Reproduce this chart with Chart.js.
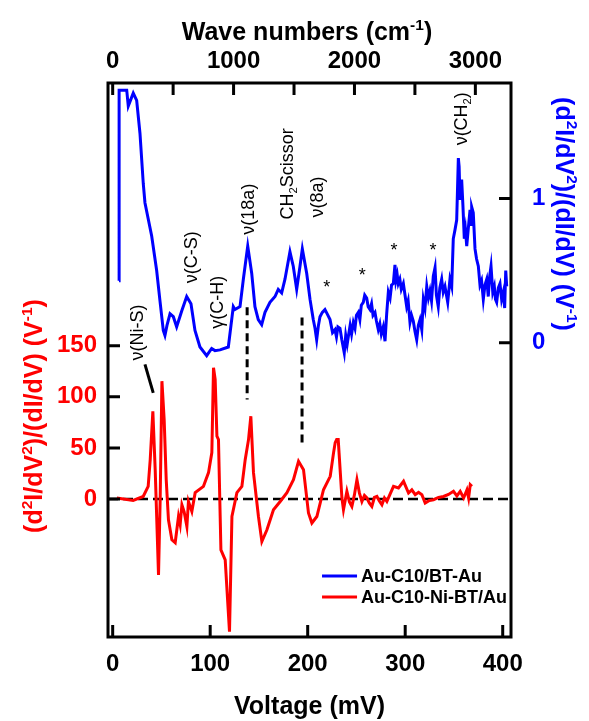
<!DOCTYPE html>
<html>
<head>
<meta charset="utf-8">
<script src="https://cdn.jsdelivr.net/npm/chart.js@4/dist/chart.umd.min.js"></script>
<style>
  html, body { margin: 0; padding: 0; background: #fff; }
</style>
</head>
<body>
<canvas id="iets" width="589" height="721"></canvas>
<script>
// Au-C10/BT-Au  (right axis, V^-1)
const blueV = [6.5, 6.6, 14.4, 16.0, 21.1, 24.6, 28.0, 31.4, 33.1, 40.0, 45.1, 48.5, 51.9, 53.6, 55.7, 58.8,
  62.2, 65.6, 70.8, 75.9, 80.3, 84.4, 89.5, 96.4, 101.5, 104.9, 110.1, 118.6, 123.7, 125.4, 130.6, 134.0,
  138.5, 142.6, 145.9, 149.3, 152.8, 156.2, 161.3, 166.5, 169.8, 173.3, 176.7, 181.8, 185.2, 188.7, 192.1,
  194.5, 199.0, 202.4, 205.7, 207.5, 209.2, 211.0, 212.6, 215.0, 217.7, 220.0, 222.9, 225.5,
  228.0, 229.5, 231.0, 233.1, 235.0, 237.5, 239.0, 240.5, 241.6, 243.5, 245.0, 246.8, 248.5, 250.0, 251.9,
  253.5, 255.0, 257.0, 258.5, 260.5, 262.0, 263.9, 265.5, 267.0, 269.0, 270.5, 272.4, 274.0, 275.5, 277.5,
  279.3, 281.0, 282.7, 284.5, 286.0, 287.8, 289.5, 290.5, 291.8, 292.9, 294.5, 296.0, 298.1, 299.8, 301.5,
  303.0, 304.9, 306.5, 308.3, 310.0, 311.8, 313.5, 315.2, 317.0, 318.6, 320.3, 322.1, 323.8, 325.4, 327.0,
  328.8, 330.6, 332.0, 333.9, 335.5, 337.4, 339.0, 340.8, 342.3, 343.6, 345.9, 347.7, 349.3, 351.0, 352.8,
  354.5, 355.3, 356.2, 357.9, 359.2, 360.6, 361.8, 363.1, 364.8, 366.5, 367.5, 368.2, 369.8, 371.6, 373.2,
  375.0, 376.7, 378.3, 380.1, 381.8, 383.6, 385.2, 386.6, 388.0, 389.8, 391.4, 392.6, 393.8, 395.5, 397.2,
  398.9, 400.6, 402.0, 403.1, 404.1];
const blueY = [0.43, 1.75, 1.75, 1.64, 1.73, 1.68, 1.45, 1.10, 0.97, 0.74, 0.50, 0.29, 0.085, 0.05, 0.12, 0.20,
  0.18, 0.11, 0.22, 0.32, 0.27, 0.085, -0.03, -0.09, -0.04, -0.055, -0.05, -0.03, 0.25, 0.23, 0.25, 0.44,
  0.67, 0.48, 0.25, 0.16, 0.125, 0.21, 0.28, 0.32, 0.37, 0.345, 0.44, 0.63, 0.53, 0.37, 0.53,
  0.65, 0.48, 0.30, 0.16, 0.10, 0.02, 0.12, 0.18, 0.21, 0.23, 0.20, 0.16, 0.07,
  0.09, 0.04, 0.11, 0.10, 0.02, -0.07, 0.05, -0.01, 0.04, 0.12, 0.06, 0.14, 0.10, 0.19, 0.21,
  0.16, 0.26, 0.28, 0.33, 0.31, 0.25, 0.23, 0.27, 0.19, 0.21, 0.15, 0.09, 0.13, 0.06, 0.11,
  0.01, 0.20, 0.35, 0.31, 0.40, 0.41, 0.54, 0.43, 0.47, 0.41, 0.44, 0.37, 0.41, 0.33, 0.25,
  0.29, 0.14, 0.19, 0.15, 0.08, 0.02, 0.12, 0.16, 0.09, 0.30, 0.24, 0.39, 0.31, 0.36, 0.29,
  0.46, 0.52, 0.33, 0.25, 0.38, 0.44, 0.35, 0.39, 0.33, 0.28, 0.44, 0.39, 0.72, 0.78, 0.85,
  1.28, 1.22, 0.99, 1.13, 0.95, 0.72, 0.78, 0.67, 0.80, 0.92, 0.82, 0.94, 0.90, 0.65, 0.58,
  0.53, 0.40, 0.43, 0.30, 0.40, 0.44, 0.32, 0.46, 0.53, 0.35, 0.39, 0.30, 0.28, 0.38, 0.41,
  0.30, 0.35, 0.24, 0.50, 0.39];

// Au-C10-Ni-BT/Au  (left axis, V^-1)
const redV = [4.3, 21.0, 31.3, 36.4, 38.5, 41.2, 43.6, 47.0, 48.7, 50.5, 52.8, 54.9, 57.2, 60.7, 64.1, 67.5,
  69.2, 71.0, 73.3, 76.1, 77.7, 81.2, 84.6, 93.1, 98.3, 101.7, 103.4, 105.1, 106.9, 108.5, 111.0, 115.4,
  119.8, 122.3, 127.4, 132.5, 135.9, 139.3, 141.7, 144.4, 149.5, 153.0, 158.2, 164.9, 171.8, 178.7, 185.4,
  190.6, 195.7, 200.8, 204.3, 209.4, 216.2, 223.1, 226.5, 228.2, 229.7, 231.3, 235.1, 236.7, 240.2, 242.8,
  245.3, 247.9, 250.5, 253.0, 255.6, 258.2, 260.7, 263.3, 265.8, 268.4, 271.0, 273.5, 276.1, 278.7, 281.2,
  284.6, 288.0, 293.1, 298.3, 303.4, 306.8, 310.3, 313.7, 317.1, 320.5, 324.8, 329.0, 334.2, 339.3, 344.4,
  349.5, 353.0, 356.4, 359.9, 363.3, 365.0, 366.7, 368.4];
const redY = [1.0, -1.4, 2.5, 12.4, 38.5, 85.9, 28.7, -74.2, -0.7, 115.3, 77.7, 19.0, -20.3, -39.9, -42.8, -17.1,
  -25.0, -5.6, -12.5, -26.9, -2.4, -12.2, 6.2, 12.4, 25.8, 45.4, 128.4, 117.0, 61.4, 58.1, -49.7, -59.5,
  -129.8, -17.1, 6.2, 12.4, 38.5, 58.1, 81.0, 25.8, -17.1, -41.6, -30.1, -10.5, -2.4, 6.2, 18.9,
  36.9, 28.7, -13.7, -23.5, -17.1, 9.1, 22.2, 45.1, 55.2, 58.1, 58.1, 1.0, -10.5, 7.5, -3.0,
  -7.3, 4.0, 18.9, 6.0, -2.4, 3.5, 1.0, -4.0, -7.3, 1.5, 2.5, -2.0, -5.6, 1.0, -2.4,
  5.0, 12.4, 10.8, 17.3, 5.9, 9.0, 4.2, 6.5, 4.2, -3.9, -1.5, -0.7, 1.5, 2.5, 4.5,
  7.5, 3.0, 7.5, 1.0, 9.0, 1.0, 14.0, 12.4];

const voltTicks = [0, 100, 200, 300, 400];
const waveTicks = [0, 500, 1000, 1500, 2000, 2500, 3000];
const redTicks = [0, 50, 100, 150];
const blueTicks = [0, 1];

const MV_TO_CM = 8.0655;
const X_MIN = -4.8, X_MAX = 408.5;
const FONT = 'Arial, "Liberation Sans", sans-serif';

// band labels, placed in (mV, left-axis) units
const notes = [
  { parts: [['ν(Ni-S)']], x: 24.9, y: 163 },
  { parts: [['ν(C-S)']], x: 80.3, y: 236.6 },
  { parts: [['γ(C-H)']], x: 107, y: 192.5 },
  { parts: [['ν(18a)']], x: 138.8, y: 283.6 },
  { parts: [['CH'], ['2', 'sub'], ['Scissor']], x: 178.8, y: 318 },
  { parts: [['ν(8a)']], x: 209.5, y: 295.4 },
  { parts: [['ν(CH'], ['2', 'sub'], [')']], x: 357.2, y: 372 }
];
const stars = [[219.5, 210], [256, 222], [288.5, 246.4], [328.5, 246.4]];
const guideLines = [[137.9, 187.5, 97.4], [194.2, 177.7, 53.2]];
const pointer = [[33.1, 131.7], [41.6, 103.9]];

function pts(xs, ys) { return xs.map((x, i) => ({ x: x, y: ys[i] })); }

function partFont(p, size, weight) {
  const s = p[1] ? size * 0.62 : size;
  return weight + ' ' + s + 'px ' + FONT;
}
function richWidth(ctx, parts, size, weight) {
  let w = 0;
  parts.forEach(p => { ctx.font = partFont(p, size, weight); w += ctx.measureText(p[0]).width; });
  return w;
}
// draws text with sup/sub pieces, centred on (cx, cy) along the baseline, rotated by rot
function drawRich(ctx, parts, cx, cy, size, weight, color, rot) {
  ctx.save();
  ctx.translate(cx, cy);
  ctx.rotate(rot);
  ctx.fillStyle = color;
  ctx.textBaseline = 'alphabetic';
  ctx.textAlign = 'left';
  let x = -richWidth(ctx, parts, size, weight) / 2;
  parts.forEach(p => {
    ctx.font = partFont(p, size, weight);
    let dy = 0;
    if (p[1] === 'sup') dy = -size * 0.42;
    if (p[1] === 'sub') dy = size * 0.22;
    ctx.fillText(p[0], x, dy);
    x += ctx.measureText(p[0]).width;
  });
  ctx.restore();
}

const decor = {
  id: 'decor',
  beforeDatasetsDraw(chart) {
    const ctx = chart.ctx, a = chart.chartArea;
    const sx = chart.scales.x, sy = chart.scales.yRed;
    ctx.save();
    ctx.strokeStyle = '#000';
    ctx.lineWidth = 2.5;
    ctx.setLineDash([10, 5]);
    const y0 = sy.getPixelForValue(0);
    ctx.beginPath(); ctx.moveTo(a.left, y0); ctx.lineTo(a.right, y0); ctx.stroke();
    ctx.lineWidth = 3;
    ctx.setLineDash([8, 5]);
    guideLines.forEach(g => {
      const px = sx.getPixelForValue(g[0]);
      ctx.beginPath();
      ctx.moveTo(px, sy.getPixelForValue(g[1]));
      ctx.lineTo(px, sy.getPixelForValue(g[2]));
      ctx.stroke();
    });
    ctx.setLineDash([]);
    ctx.beginPath();
    ctx.moveTo(sx.getPixelForValue(pointer[0][0]), sy.getPixelForValue(pointer[0][1]));
    ctx.lineTo(sx.getPixelForValue(pointer[1][0]), sy.getPixelForValue(pointer[1][1]));
    ctx.stroke();
    ctx.restore();
  },
  afterDraw(chart) {
    const ctx = chart.ctx, a = chart.chartArea;
    const sx = chart.scales.x, st = chart.scales.xTop;
    const sy = chart.scales.yRed, sb = chart.scales.yBlue;
    ctx.save();
    // frame + inward ticks
    ctx.strokeStyle = '#000';
    ctx.lineWidth = 3;
    ctx.strokeRect(a.left, a.top, a.right - a.left, a.bottom - a.top);
    const TL = 12;
    ctx.beginPath();
    voltTicks.forEach(v => { const p = sx.getPixelForValue(v); ctx.moveTo(p, a.bottom); ctx.lineTo(p, a.bottom - TL); });
    waveTicks.forEach(v => { const p = st.getPixelForValue(v); ctx.moveTo(p, a.top); ctx.lineTo(p, a.top + TL); });
    redTicks.forEach(v => { const p = sy.getPixelForValue(v); ctx.moveTo(a.left, p); ctx.lineTo(a.left + TL, p); });
    blueTicks.forEach(v => { const p = sb.getPixelForValue(v); ctx.moveTo(a.right, p); ctx.lineTo(a.right - TL, p); });
    ctx.stroke();

    // axis titles
    drawRich(ctx, [['Voltage (mV)']], (a.left + a.right) / 2, 714, 25, 'bold', '#000', 0);
    drawRich(ctx, [['Wave numbers (cm'], ['-1', 'sup'], [')']], 307, 40, 25, 'bold', '#000', 0);
    const axisTitle = [['(d'], ['2', 'sup'], ['I/dV'], ['2', 'sup'], [')/(dI/dV) (V'], ['-1', 'sup'], [')']];
    drawRich(ctx, axisTitle, 42, 416, 25, 'bold', '#ff0000', -Math.PI / 2);
    drawRich(ctx, axisTitle, 556, 214, 25, 'bold', '#0000ff', Math.PI / 2);

    // band labels
    notes.forEach(n => {
      drawRich(ctx, n.parts, sx.getPixelForValue(n.x) + 6, sy.getPixelForValue(n.y), 18, 'normal', '#000', -Math.PI / 2);
    });
    ctx.fillStyle = '#000';
    ctx.font = '18px ' + FONT;
    ctx.textAlign = 'center';
    ctx.textBaseline = 'middle';
    stars.forEach(s => ctx.fillText('*', sx.getPixelForValue(s[0]), sy.getPixelForValue(s[1]) + 4));

    // legend
    const ds = chart.data.datasets;
    ctx.font = 'bold 18px ' + FONT;
    ctx.textAlign = 'left';
    const lx0 = sx.getPixelForValue(214.7), lx1 = sx.getPixelForValue(250.6), tx = sx.getPixelForValue(254.7);
    [[-75.2, ds[0]], [-95.8, ds[1]]].forEach(r => {
      const y = sy.getPixelForValue(r[0]);
      ctx.strokeStyle = r[1].borderColor;
      ctx.lineWidth = 3;
      ctx.beginPath(); ctx.moveTo(lx0, y); ctx.lineTo(lx1, y); ctx.stroke();
      ctx.fillStyle = '#000';
      ctx.fillText(r[1].label, tx, y + 1);
    });
    ctx.restore();
  }
};

const tickFont = { family: FONT, size: 24, weight: 'bold' };

new Chart(document.getElementById('iets'), {
  type: 'line',
  data: {
    datasets: [
      { label: 'Au-C10/BT-Au', data: pts(blueV, blueY), yAxisID: 'yBlue', borderColor: '#0000ff', borderWidth: 3, pointRadius: 0, tension: 0 },
      { label: 'Au-C10-Ni-BT/Au', data: pts(redV, redY), yAxisID: 'yRed', borderColor: '#ff0000', borderWidth: 3, pointRadius: 0, tension: 0 }
    ]
  },
  options: {
    responsive: false,
    devicePixelRatio: 1,
    animation: false,
    layout: { padding: 0 },
    plugins: { legend: { display: false }, tooltip: { enabled: false } },
    scales: {
      x: {
        type: 'linear', position: 'bottom', min: X_MIN, max: X_MAX,
        afterBuildTicks: s => { s.ticks = voltTicks.map(v => ({ value: v })); },
        afterFit: s => { s.height = 84; },
        grid: { display: false, drawTicks: false }, border: { display: false },
        ticks: { font: tickFont, color: '#000', padding: 13, maxRotation: 0, autoSkip: false }
      },
      xTop: {
        type: 'linear', position: 'top', min: X_MIN * MV_TO_CM, max: X_MAX * MV_TO_CM,
        afterBuildTicks: s => { s.ticks = waveTicks.map(v => ({ value: v })); },
        afterFit: s => { s.height = 83; },
        grid: { display: false, drawTicks: false }, border: { display: false },
        ticks: { font: tickFont, color: '#000', padding: 7, maxRotation: 0, autoSkip: false,
          callback: v => (v % 1000 === 0 ? String(v) : '') }
      },
      yRed: {
        type: 'linear', position: 'left', min: -135, max: 407,
        afterBuildTicks: s => { s.ticks = redTicks.map(v => ({ value: v })); },
        afterFit: s => { s.width = 108; },
        grid: { display: false, drawTicks: false }, border: { display: false },
        ticks: { font: tickFont, color: '#ff0000', padding: 11, autoSkip: false }
      },
      yBlue: {
        type: 'linear', position: 'right', min: -2.04, max: 1.80,
        afterBuildTicks: s => { s.ticks = blueTicks.map(v => ({ value: v })); },
        afterFit: s => { s.width = 78; },
        grid: { display: false, drawTicks: false }, border: { display: false },
        ticks: { font: tickFont, color: '#0000ff', padding: 21, autoSkip: false }
      }
    }
  },
  plugins: [decor]
});
</script>
</body>
</html>
